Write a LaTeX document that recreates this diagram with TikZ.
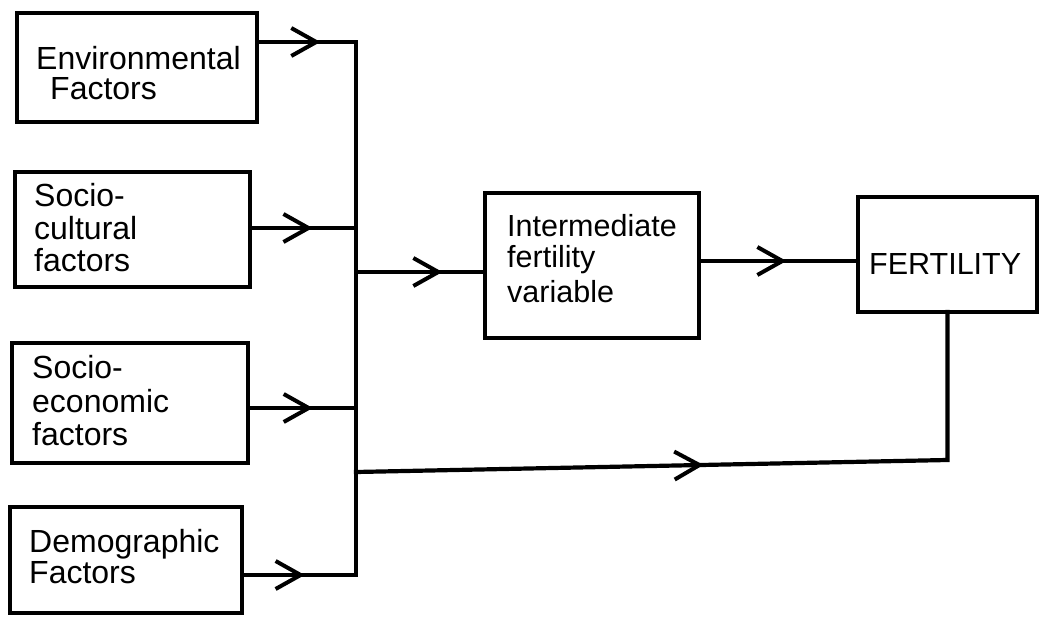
\documentclass[tikz,border=0pt]{standalone}
\usepackage{fontspec}
\setmainfont{Liberation Sans}
\usetikzlibrary{arrows.meta,decorations.markings}
\tikzset{
  box/.style={draw=black, line width=4.4pt, inner sep=0pt, outer sep=0pt, rectangle},
  lbl/.style={anchor=base west, inner sep=0pt, font=\fontsize{32pt}{33pt}\selectfont},
  rlbl/.style={anchor=base west, inner sep=0pt, font=\fontsize{30.5pt}{32pt}\selectfont},
  conn/.style={draw=black, line width=4.2pt, line cap=rect, line join=miter},
  midarrow/.style={postaction={decorate}, decoration={markings,
     mark=at position #1 with {\arrow[line width=4pt]{Straight Barb[length=25pt,width=28pt]}}}}
}
\begin{document}
\begin{tikzpicture}[x=1pt,y=-1pt]
\useasboundingbox (0,0) rectangle (1040,617);
\fill[white] (0,0) rectangle (1040,617);

% boxes
\node[box, minimum width=240pt, minimum height=109pt] (env)   at (137,67.5) {};
\node[box, minimum width=235pt, minimum height=115pt] (cult)  at (132.5,229.5) {};
\node[box, minimum width=236pt, minimum height=120pt] (econ)  at (130,403) {};
\node[box, minimum width=232pt, minimum height=106pt] (demo)  at (126,560) {};
\node[box, minimum width=214pt, minimum height=145pt] (inter) at (592,265.5) {};
\node[box, minimum width=179pt, minimum height=115pt] (fert)  at (947.5,254.5) {};

% texts
\node[lbl] (env1) at (36,70) {Environmental};
\node[lbl] (env2) at (50,100) {Factors};
\node[lbl] (cult1) at (34,207) {Socio-};
\node[lbl] (cult2) at (34,240) {cultural};
\node[lbl] (cult3) at (34,272) {factors};
\node[lbl] (econ1) at (32,378) {Socio-};
\node[lbl] (econ2) at (32,412) {economic};
\node[lbl] (econ3) at (32,445) {factors};
\node[lbl] (demo1) at (29,552) {Demographic};
\node[lbl] (demo2) at (29,583) {Factors};
\node[rlbl] (inter1) at (507,237) {Intermediate};
\node[rlbl] (inter2) at (507,268) {fertility};
\node[rlbl] (inter3) at (507,302) {variable};
\node[rlbl] (fert1) at (869,275) {FERTILITY};

% junctions on the bus
\coordinate (j1) at (356,42);
\coordinate (j2) at (356,228);
\coordinate (ji) at (356,272);
\coordinate (j3) at (356,408);
\coordinate (jb) at (356,472);
\coordinate (j4) at (356,575);
\coordinate (jf) at (699,261);
\coordinate (corner) at (947.5,460);

% bus
\draw[conn] (j1) -- (j4);

% inputs
\draw[conn, midarrow=0.64] (env.east |- j1) -- (j1);
\draw[conn, midarrow=0.59] (cult.east |- j2) -- (j2);
\draw[conn, midarrow=0.60] (econ.east |- j3) -- (j3);
\draw[conn, midarrow=0.55] (demo.east |- j4) -- (j4);

% to intermediate
\draw[conn, midarrow=0.67] (ji) -- (inter.west |- ji);
% intermediate to fertility
\draw[conn, midarrow=0.55] (inter.east |- jf) -- (fert.west |- jf);
% direct path to fertility
\draw[conn, midarrow=0.47] (jb) -- (corner) -- (fert.south);
\end{tikzpicture}
\end{document}
